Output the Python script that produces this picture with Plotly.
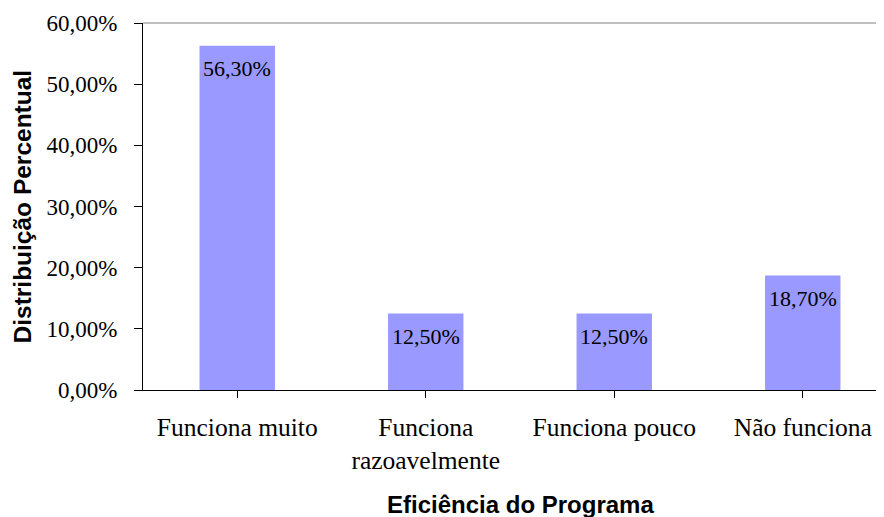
import plotly.graph_objects as go

categories = ["Funciona muito", "Funciona<br>razoavelmente", "Funciona pouco", "Não funciona"]
values = [56.3, 12.5, 12.5, 18.7]
value_labels = ["56,30%", "12,50%", "12,50%", "18,70%"]
y_tickvals = [0, 10, 20, 30, 40, 50, 60]
y_ticktext = ["0,00%", "10,00%", "20,00%", "30,00%", "40,00%", "50,00%", "60,00%"]

SERIF = "Liberation Serif"
SANS = "Liberation Sans"

# the page body has an 8px margin, so the figure is sized to fit the window
OFF = 8
FIG_W, FIG_H = 884 - OFF, 517 - OFF
ML, MT = 143 - OFF, 23 - OFF
MB = FIG_H - (390 - OFF)
PLOT_W = FIG_W - ML
PLOT_H = FIG_H - MT - MB

fig = go.Figure()
fig.add_trace(go.Bar(
    x=list(range(len(categories))),
    y=values,
    width=0.4,
    marker=dict(color="#9999FF", line=dict(width=0)),
    hoverinfo="skip",
))

for i, (v, t) in enumerate(zip(values, value_labels)):
    fig.add_annotation(x=i, y=v, text=t, showarrow=False, yanchor="top",
                       yshift=-8, font=dict(family=SERIF, size=22, color="black"))

# axis titles
fig.add_annotation(x=1.5, xref="x", y=-(504 - 390) / PLOT_H, yref="paper", yanchor="middle",
                   text="<b>Eficiência do Programa</b>", showarrow=False,
                   font=dict(family=SANS, size=24, color="black"))
fig.add_annotation(x=(22 - 143) / PLOT_W, xref="paper", xanchor="center", y=0.5, yref="paper",
                   yanchor="middle", text="<b>Distribuição Percentual</b>",
                   showarrow=False, textangle=-90, font=dict(family=SANS, size=24.5, color="black"))

fig.update_layout(
    width=FIG_W, height=FIG_H,
    margin=dict(l=ML, r=0, t=MT, b=MB, autoexpand=False),
    paper_bgcolor="white", plot_bgcolor="white",
    showlegend=False,
    xaxis=dict(
        range=[-0.5, -0.5 + PLOT_W / 188.5],
        tickmode="array", tickvals=list(range(len(categories))), ticktext=categories,
        tickson="boundaries", ticks="outside", ticklen=7, tickcolor="black", tickwidth=1,
        showline=True, linecolor="black", linewidth=1,
        showgrid=False, zeroline=False, automargin=False,
        tickfont=dict(family=SERIF, size=25.5, color="black"),
        ticklabelstandoff=7,
        fixedrange=True,
    ),
    yaxis=dict(
        range=[0, 60],
        tickmode="array", tickvals=y_tickvals, ticktext=y_ticktext,
        ticks="outside", ticklen=8, tickcolor="black", tickwidth=1,
        showline=True, linecolor="black", linewidth=1,
        showgrid=False, zeroline=False, automargin=False,
        tickfont=dict(family=SERIF, size=23, color="black"),
        ticklabelstandoff=12,
        fixedrange=True,
    ),
)

fig.add_shape(type="line", xref="paper", yref="paper", x0=0, x1=1, y0=1, y1=1,
              line=dict(color="#808080", width=1))

fig.write_html("out.html")
